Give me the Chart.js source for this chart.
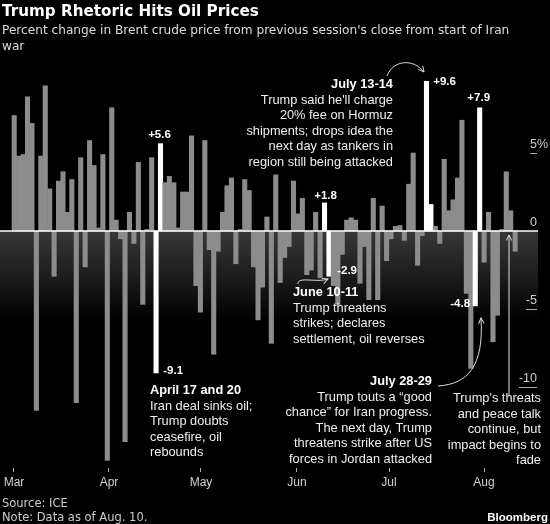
<!DOCTYPE html>
<html>
<head>
<meta charset="utf-8">
<script src="https://cdn.jsdelivr.net/npm/chart.js@4.4.1/dist/chart.umd.min.js"></script>
<style>
html,body{margin:0;padding:0;background:#000;}
#wrap{position:relative;width:550px;height:524px;overflow:hidden;background:#000;}
#c{position:absolute;left:0;top:0;}
.t{position:absolute;white-space:nowrap;color:#fff;}
#title{left:2px;top:2px;font:bold 15.2px/19px 'DejaVu Sans',sans-serif;}
#sub{left:2px;top:22px;font:12.15px/16px 'DejaVu Sans',sans-serif;color:#ddd;}
.ann{font:12.8px/15.5px 'Liberation Sans',Arial,sans-serif;color:#eee;}
.ann b{color:#fff;}
.r{text-align:right;}
#src{left:2px;top:496px;font:11.5px/14px 'DejaVu Sans',sans-serif;color:#ccc;}
#bbg{right:2px;top:510px;font:bold 11.5px/14px 'Liberation Sans',Arial,sans-serif;color:#fff;}
svg{position:absolute;left:0;top:0;}
</style>
</head>
<body>
<div id="wrap">
<canvas id="c" width="550" height="524"></canvas>
<div class="t" id="title">Trump Rhetoric Hits Oil Prices</div>
<div class="t" id="sub">Percent change in Brent crude price from previous session's close from start of Iran<br>war</div>

<div class="t ann r" style="right:157px;top:76px;"><b>July 13-14</b><br>Trump said he'll charge<br>20% fee on Hormuz<br>shipments; drops idea the<br>next day as tankers in<br>region still being attacked</div>
<div class="t ann" style="left:293px;top:284px;"><b>June 10-11</b><br>Trump threatens<br>strikes; declares<br>settlement, oil reverses</div>
<div class="t ann" style="left:150px;top:382px;"><b>April 17 and 20</b><br>Iran deal sinks oil;<br>Trump doubts<br>ceasefire, oil<br>rebounds</div>
<div class="t ann r" style="right:118px;top:373px;"><b>July 28-29</b><br>Trump touts a “good<br>chance” for Iran progress.<br>The next day, Trump<br>threatens strike after US<br>forces in Jordan attacked</div>
<div class="t ann r" style="right:9px;top:390px;">Trump's threats<br>and peace talk<br>continue, but<br>impact begins to<br>fade</div>

<div class="t" id="src">Source: ICE<br>Note: Data as of Aug. 10.</div>
<div class="t" id="bbg">Bloomberg</div>

<svg width="550" height="524">
<defs>
<marker id="ah" viewBox="0 0 10 10" refX="9" refY="5" markerWidth="7" markerHeight="7" orient="auto" markerUnits="userSpaceOnUse">
<path d="M1,1 L9,5 L1,9" fill="none" stroke="#ddd" stroke-width="1.4"/>
</marker>
</defs>
<path d="M387,76 C393,60 413,58 424,72" fill="none" stroke="#ddd" stroke-width="1" marker-end="url(#ah)"/>
<path d="M298,284 C297,276 318,283 328,279" fill="none" stroke="#ddd" stroke-width="1" marker-end="url(#ah)"/>
<path d="M438,386 C468,384 484,366 481,318" fill="none" stroke="#ddd" stroke-width="1" marker-end="url(#ah)"/>
<path d="M509,396 L509,235" fill="none" stroke="#ddd" stroke-width="1" marker-end="url(#ah)"/>
</svg>
</div>

<script>
// Daily % change in Brent, trading sessions from the start of the war (Mar) to Aug 10
const changes = [
  7.4, 4.8, 4.9, 8.6, 6.9, -11.5, 4.8, 9.3, 2.7, -2.9,
  3.2, 3.8, 1.2, 3.3, -11.0, 4.7, -2.3, 5.8, 4.2, 0.2,
  4.9, -14.7, 7.9, 0.7, -0.5, -13.5, 1.2, -0.8, 4.4, -4.7,
  0.1, 4.7, -9.1, 5.6, 3.1, 3.5, 3.1, 0.2, 2.5, 2.5,
  6.1, -3.5, -5.2, 5.8, -1.2, -7.9, -1.3, 1.2, 2.9, 3.4,
  -2.1, 0.1, 3.3, 2.6, -2.3, -5.7, -3.6, 0.9, -7.2, 3.6,
  -3.3, -1.7, -1.0, 3.2, 1.1, 2.1, -2.8, -2.5, 1.2, -3.0,
  1.8, -2.9, -3.5, -4.7, -1.5, 0.7, 0.85, 0.7, -3.35, -1.0,
  -4.4, 2.1, -4.4, 1.6, -1.9, -0.5, 0.3, 0.35, -0.6, 3.0,
  5.0, -2.2, -0.3, 9.6, 1.7, 0.3, -0.8, 4.6, 1.3, 2.0,
  3.4, 7.1, -4.0, -8.8, -4.8, 7.9, -2.0, 1.2, -7.1, -5.4,
  0.1, 3.8, 1.3, -1.3
];
// session index of each day (categories)
const sessions = changes.map((_, i) => i);
// highlighted sessions (white bars)
const highlighted = [32, 33, 70, 71, 93, 94, 104, 105];
// sessions carrying a value label
const labelled = [32, 33, 70, 71, 93, 104, 105];
// month tick labels and their positions on the session axis
const monthLabels = ['Mar', 'Apr', 'May', 'Jun', 'Jul', 'Aug'];
const monthTickPos = [-0.05, 21.38, 42.13, 63.79, 84.55, 105.98];
// y tick labels
const yTickValues = [5, 0, -5, -10];
const yTickLabels = ['5', '0', '-5', '-10'];

// label placement styles
const labelStyle = {
  32: {side: 'right', dx: 5, dy: -2},
  33: {side: 'top', dx: -1, dy: -8.5},
  70: {side: 'top', dx: 1, dy: -7.5},
  71: {side: 'right', dx: 6, dy: -5},
  93: {side: 'rightTop', dx: 4.5, dy: 1},
  104: {side: 'left', dx: -3, dy: -2},
  105: {side: 'top', dx: -1, dy: -9.5}
};

const GRAY = '#8c8c8c';
const WHITE = '#ffffff';

const bgPlugin = {
  id: 'bg',
  beforeDraw(chart) {
    const {ctx, chartArea, scales: {y}} = chart;
    ctx.save();
    ctx.fillStyle = '#000';
    ctx.fillRect(0, 0, chart.width, chart.height);
    const y0 = y.getPixelForValue(0);
    const g = ctx.createLinearGradient(0, y0, 0, y0 + 90);
    g.addColorStop(0, '#383838');
    g.addColorStop(1, '#000000');
    ctx.fillStyle = g;
    ctx.fillRect(chartArea.left, y0, chartArea.right - chartArea.left, chartArea.bottom - y0);
    ctx.restore();
  }
};

const overlayPlugin = {
  id: 'overlay',
  afterDatasetsDraw(chart) {
    const {ctx, chartArea, scales: {y}} = chart;
    const y0 = y.getPixelForValue(0);
    ctx.save();
    // zero line
    ctx.strokeStyle = '#ffffff';
    ctx.lineWidth = 1.5;
    ctx.beginPath();
    ctx.moveTo(chartArea.left, y0);
    ctx.lineTo(chartArea.right, y0);
    ctx.stroke();

    // y tick labels (right side)
    ctx.font = '12.5px "Liberation Sans", Arial, sans-serif';
    ctx.fillStyle = '#cccccc';
    ctx.textAlign = 'right';
    ctx.textBaseline = 'middle';
    const xr = chartArea.right - 1;
    yTickValues.forEach((v, i) => {
      const py = y.getPixelForValue(v);
      const txt = yTickLabels[i];
      ctx.fillText(txt, xr, py - 8.5);
      if (i === 0) {
        ctx.textAlign = 'left';
        ctx.fillText('%', xr, py - 8.5);
        ctx.textAlign = 'right';
      }
      if (v !== 0) {
        const w = ctx.measureText(txt).width;
        ctx.strokeStyle = '#aaaaaa';
        ctx.lineWidth = 1;
        ctx.beginPath();
        ctx.moveTo(xr - w, Math.round(py) + 0.5);
        ctx.lineTo(xr, Math.round(py) + 0.5);
        ctx.stroke();
      }
    });

    // value labels on highlighted bars
    const meta = chart.getDatasetMeta(0);
    ctx.font = 'bold 11.5px "Liberation Sans", Arial, sans-serif';
    ctx.fillStyle = '#ffffff';
    labelled.forEach(i => {
      const el = meta.data[i];
      const v = changes[i];
      const txt = (v > 0 ? '+' : '') + v.toFixed(1);
      const st = labelStyle[i];
      const top = Math.min(el.y, el.base), bottom = Math.max(el.y, el.base);
      const left = el.x - el.width / 2, right = el.x + el.width / 2;
      let x, yy;
      if (st.side === 'top') { ctx.textAlign = 'center'; x = el.x + st.dx; yy = top + st.dy; }
      else if (st.side === 'right') { ctx.textAlign = 'left'; x = right + st.dx; yy = bottom + st.dy; }
      else if (st.side === 'rightTop') { ctx.textAlign = 'left'; x = right + st.dx; yy = top + st.dy; }
      else { ctx.textAlign = 'right'; x = left + st.dx; yy = bottom + st.dy; }
      ctx.fillText(txt, x, yy);
    });
    ctx.restore();
  }
};

new Chart(document.getElementById('c'), {
  type: 'bar',
  data: {
    labels: sessions,
    datasets: [{
      data: sessions.map(i => ({x: i, y: changes[i]})),
      backgroundColor: c => highlighted.includes(c.dataIndex) ? WHITE : GRAY,
      borderWidth: 0,
      barPercentage: 1,
      categoryPercentage: 1
    }]
  },
  options: {
    responsive: false,
    animation: false,
    devicePixelRatio: 1,
    layout: {padding: {top: 70, right: 12, bottom: 34, left: 0}},
    plugins: {legend: {display: false}, tooltip: {enabled: false}, title: {display: false}},
    scales: {
      x: {
        type: 'linear',
        min: -3.207,
        max: 118.157,
        offset: false,
        afterBuildTicks: s => { s.ticks = monthTickPos.map(v => ({value: v})); },
        afterFit: s => { s.height = 22; },
        ticks: {
          autoSkip: false,
          maxRotation: 0,
          padding: 3,
          color: '#d0d0d0',
          font: {family: '"Liberation Sans", Arial, sans-serif', size: 12},
          callback: (v, i) => monthLabels[i]
        },
        grid: {display: true, drawOnChartArea: false, offset: false, tickLength: 4, color: '#aaaaaa', tickColor: '#aaaaaa', tickWidth: 1},
        border: {display: false}
      },
      y: {display: false, min: -15.19, max: 10.32}
    }
  },
  plugins: [bgPlugin, overlayPlugin]
});
</script>
</body>
</html>
